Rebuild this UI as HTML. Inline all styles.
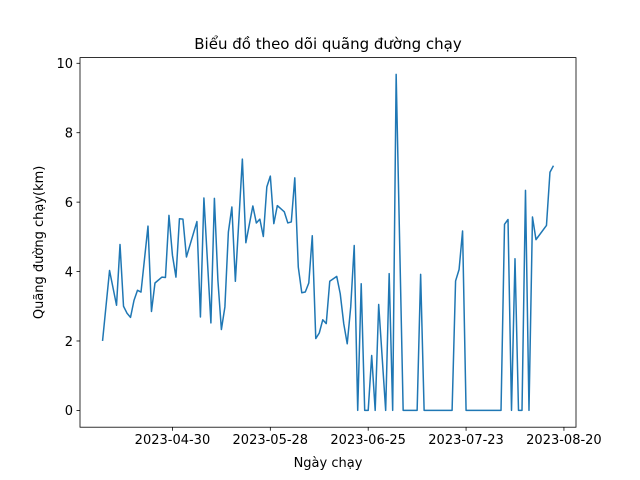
<!DOCTYPE html>
<html><head><meta charset="utf-8"><style>
body{margin:0;background:#fff}
svg{display:block}
text{font-family:"DejaVu Sans","Liberation Sans",sans-serif;fill:#000}
</style></head><body>
<svg id="chart" width="640" height="480" viewBox="0 0 640 480"></svg>
<script>
const dates=["04-10","04-12","04-14","04-15","04-16","04-17","04-18","04-19","04-20","04-21","04-23","04-24","04-25","04-27","04-28","04-29","04-30","05-01","05-02","05-03","05-04","05-07","05-08","05-09","05-11","05-12","05-13","05-14","05-15","05-16","05-17","05-18","05-20","05-21","05-23","05-24","05-25","05-26","05-27","05-28","05-29","05-30","06-01","06-02","06-03","06-04","06-05","06-06","06-07","06-08","06-09","06-10","06-11","06-12","06-13","06-14","06-16","06-17","06-18","06-19","06-20","06-21","06-22","06-23","06-24","06-25","06-26","06-27","06-28","06-30","07-01","07-02","07-03","07-05","07-09","07-10","07-11","07-19","07-20","07-21","07-22","07-23","08-02","08-03","08-04","08-05","08-06","08-07","08-08","08-09","08-10","08-11","08-12","08-15","08-16","08-17"];
const distances=[2.0,4.03,3.03,4.78,3.0,2.8,2.68,3.17,3.46,3.41,5.31,2.85,3.67,3.84,3.83,5.62,4.47,3.84,5.52,5.51,4.42,5.44,2.69,6.12,2.52,6.11,3.75,2.33,2.98,5.14,5.86,3.72,7.24,4.83,5.89,5.4,5.51,5.01,6.44,6.75,5.38,5.9,5.72,5.4,5.43,6.7,4.13,3.39,3.41,3.67,5.03,2.07,2.23,2.61,2.5,3.72,3.86,3.36,2.5,1.92,2.98,4.75,0,3.65,0,0,1.58,0,3.05,0,3.94,0,9.68,0,0,3.92,0,0,3.73,4.06,5.17,0,0,5.36,5.5,0,4.37,0,0,6.34,0,5.57,4.92,5.33,6.86,7.05];
const xTicks=["2023-04-30","2023-05-28","2023-06-25","2023-07-23","2023-08-20"];
const yTicks=[0,2,4,6,8,10];

const NS="http://www.w3.org/2000/svg";
const svg=document.getElementById('chart');
function mk(tag,attrs,parent){const e=document.createElementNS(NS,tag);for(const k in attrs)e.setAttribute(k,attrs[k]);(parent||svg).appendChild(e);return e;}
const L=80,R=576,T=57.6,B=427.2;
const day=s=>Date.parse(s+"T00:00:00Z")/86400000;
const xs=dates.map(d=>day("2023-"+d));
const xmin=Math.min(...xs),xmax=Math.max(...xs),xm=(xmax-xmin)*0.05;
const ymin=Math.min(...distances),ymax=Math.max(...distances),ym=(ymax-ymin)*0.05;
const X=v=>L+(v-(xmin-xm))/((xmax+xm)-(xmin-xm))*(R-L);
const Y=v=>B-(v-(ymin-ym))/((ymax+ym)-(ymin-ym))*(B-T);

const plotArea=mk('g',{});


const line=mk('polyline',{points:xs.map((x,i)=>X(x).toFixed(2)+","+Y(distances[i]).toFixed(2)).join(" "),fill:"none",stroke:"#1f77b4","stroke-width":"1.5","stroke-linejoin":"round"},plotArea);



const frame=mk('rect',{x:L,y:T,width:R-L,height:B-T,fill:"none",stroke:"#000","stroke-width":"0.8"});



const xAxis=mk('g',{});


xTicks.forEach(t=>{const x=X(day(t));
 mk('line',{x1:x,x2:x,y1:B,y2:B+3.5,stroke:"#000","stroke-width":"0.8"},xAxis);
 const tx=mk('text',{x:x,y:B+17,"text-anchor":"middle","font-size":"13"},xAxis);tx.textContent=t;
 
 
});
const yAxis=mk('g',{});


yTicks.forEach(t=>{const y=Y(t);
 mk('line',{x1:L-3.5,x2:L,y1:y,y2:y,stroke:"#000","stroke-width":"0.8"},yAxis);
 const tx=mk('text',{x:L-7,y:y+4.8,"text-anchor":"end","font-size":"13"},yAxis);tx.textContent=t;
 
 
});
const xl=mk('text',{x:(L+R)/2,y:467,"text-anchor":"middle","font-size":"13"});xl.textContent="Ngày chạy";


const yl=mk('text',{x:0,y:0,"text-anchor":"middle","font-size":"13",transform:"translate(43,"+((T+B)/2)+") rotate(-90)"});yl.textContent="Quãng đường chạy(km)";


const ti=mk('text',{x:(L+R)/2,y:49,"text-anchor":"middle","font-size":"15"});ti.textContent="Biểu đồ theo dõi quãng đường chạy";


</script>
</body></html>
